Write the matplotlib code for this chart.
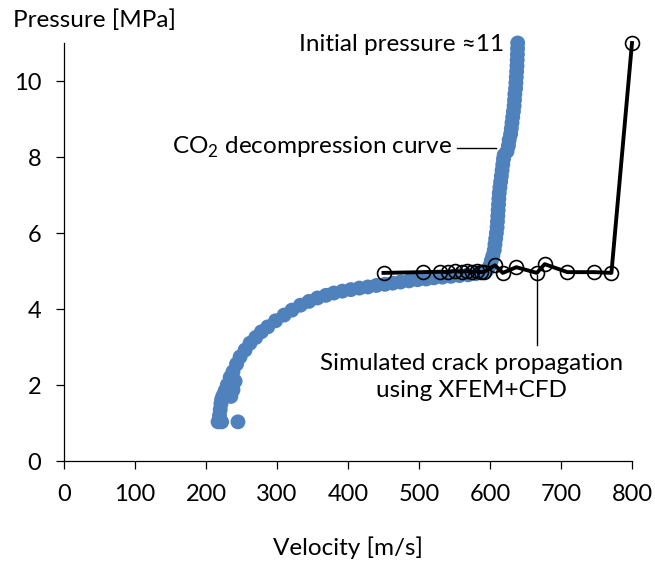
import matplotlib
matplotlib.use("Agg")
import matplotlib.pyplot as plt

plt.rcParams["font.family"] = ["Lato", "DejaVu Sans"]
plt.rcParams["mathtext.fontset"] = "custom"
plt.rcParams["mathtext.rm"] = "Lato"

# CO2 decompression curve (blue dots)
co2_velocity = [
    217, 222, 219, 220, 221, 222, 224, 227, 230, 234, 238, 243, 248, 255,
    262, 270, 278, 287, 298, 310, 321, 333, 345, 357, 369, 380, 392, 404,
    416, 428, 440, 452, 463, 474, 486, 498, 510, 521, 533, 545, 557, 569,
    580, 590, 596, 600, 602,
    604, 606, 607, 608, 609, 610, 610.5, 611, 611.5, 612, 612.5, 613, 614,
    615, 616, 617, 618, 619, 620, 624, 626, 627, 629, 630, 631, 632, 633,
    634, 634.5, 635, 636, 636.5, 637, 637.5, 638, 638.3, 638.6, 638.8, 639,
    245, 238, 235, 241,
]
co2_pressure = [
    1.03, 1.03, 1.2, 1.35, 1.5, 1.62, 1.72, 1.85, 2.0, 2.2, 2.35, 2.55, 2.74, 2.92,
    3.1, 3.25, 3.4, 3.53, 3.69, 3.84, 3.97, 4.1, 4.2, 4.29, 4.36, 4.42, 4.47, 4.51,
    4.55, 4.58, 4.62, 4.65, 4.68, 4.71, 4.74, 4.77, 4.79, 4.82, 4.84, 4.86, 4.88, 4.9,
    4.93, 4.97, 5.03, 5.15, 5.28,
    5.40, 5.55, 5.70, 5.85, 6.00, 6.15, 6.30, 6.45, 6.60, 6.75, 6.90, 7.05, 7.20,
    7.35, 7.50, 7.65, 7.80, 7.95, 8.05, 8.15, 8.30, 8.45, 8.60, 8.75, 8.90, 9.05,
    9.20, 9.35, 9.50, 9.65, 9.80, 9.95, 10.10, 10.25, 10.40, 10.55, 10.70, 10.85, 11.00,
    1.03, 1.87, 1.7, 2.1,
]

# simulated crack propagation (XFEM+CFD)
crack_velocity = [450, 505, 530, 541, 550, 560, 567, 574, 581, 588, 592,
                  607, 618, 637, 666, 677, 709, 747, 771, 800]
crack_pressure = [4.95, 4.97, 4.98, 4.97, 5.0, 4.98, 5.0, 4.97, 4.99, 4.97, 4.98,
                  5.15, 4.95, 5.1, 4.95, 5.18, 4.97, 4.97, 4.95, 11.0]

x_ticks = [0, 100, 200, 300, 400, 500, 600, 700, 800]
y_ticks = [0, 2, 4, 6, 8, 10]

W, H = 655, 566
fig = plt.figure(figsize=(W / 100, H / 100), dpi=100)
ax = fig.add_axes([64 / W, 1 - 461 / H, (632 - 64) / W, (461 - 43) / H])

ax.scatter(co2_velocity, co2_pressure, s=115, color="#4F81BD", edgecolors="none",
           clip_on=False, zorder=2)
ax.plot(crack_velocity, crack_pressure, color="black", lw=2.8, marker="o",
        markersize=10, markerfacecolor="none", markeredgecolor="black",
        markeredgewidth=1.2, clip_on=False, zorder=3)

ax.set_xlim(0, 800)
ax.set_ylim(0, 11)
ax.set_xticks(x_ticks)
ax.set_yticks(y_ticks)
ax.tick_params(labelsize=17, length=5.5, width=0.9, pad=11, direction="out")
for side in ["top", "right"]:
    ax.spines[side].set_visible(False)
for side in ["left", "bottom"]:
    ax.spines[side].set_linewidth(0.9)

fig.text(13 / W, 1 - 20 / H, "Pressure [MPa]", fontsize=17.5, ha="left", va="center")
fig.text(348 / W, 1 - 548 / H, "Velocity [m/s]", fontsize=17.5, ha="center", va="center")

ax.text(620, 10.95, "Initial pressure \u224811", fontsize=17.5, ha="right", va="center")
ax.text(546, 8.24, r"CO$_\mathregular{2}$ decompression curve", fontsize=17.5,
        ha="right", va="center")
ax.plot([554, 608], [8.24, 8.24], color="black", lw=1.0, zorder=4)
ax.text(574, 2.2, "Simulated crack propagation\nusing XFEM+CFD", fontsize=17.5,
        ha="center", va="center", multialignment="center", linespacing=1.35)
ax.plot([666, 666], [4.9, 3.05], color="black", lw=1.0, zorder=4)

fig.savefig("out.png", dpi=100)
